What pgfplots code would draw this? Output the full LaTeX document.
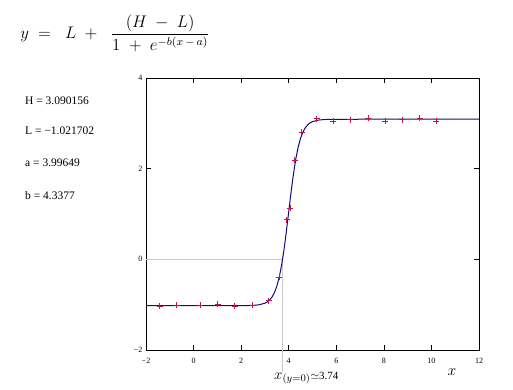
\documentclass[border=0pt]{standalone}
\usepackage{pgfplots}
\pgfplotsset{compat=1.18}
\usepackage{fontspec}
\setmainfont{Liberation Serif}
\definecolor{curve}{RGB}{15,15,125}
\definecolor{pts}{RGB}{200,15,70}
\definecolor{guide}{RGB}{200,200,200}
\begin{document}
\begin{tikzpicture}[x=1pt,y=1pt]
\path[use as bounding box] (0,0) rectangle (513,390);
\begin{axis}[
  at={(146pt,40pt)}, anchor=south west,
  scale only axis, width=333pt, height=272pt,
  xmin=-2, xmax=12, ymin=-2, ymax=4,
  xtick={-2,0,2,4,6,8,10,12},
  xticklabels={−2,0,2,4,6,8,10,12},
  ytick={-2,0,2,4},
  yticklabels={−2,0,2,4},
  tick align=inside, major tick length=5pt,
  tick style={black, line width=0.6pt},
  axis line style={line width=0.7pt},
  ticklabel style={font=\fontsize{8}{9}\selectfont},
  xticklabel style={yshift=-5pt},
  clip mode=individual,
]
\addplot[guide, line width=0.6pt, clip=false] coordinates {(-2,0) (3.74,0) (3.74,-2.48)};
\addplot[curve, line width=1pt] coordinates {
(-2,-1.0217) (1,-1.0217) (2,-1.0210) (2.25,-1.0196) (2.5,-1.0155) (2.75,-1.0033)
(3.0,-0.9679) (3.1,-0.9392) (3.2,-0.8958) (3.3,-0.8306) (3.4,-0.7341) (3.5,-0.5941)
(3.6,-0.3971) (3.7,-0.1314) (3.8,0.2075) (3.9,0.6102) (4.0,1.0499) (4.1,1.4882)
(4.2,1.8871) (4.3,2.2210) (4.4,2.4816) (4.5,2.6741) (4.6,2.8105) (4.7,2.9045)
(4.8,2.9679) (4.9,3.0101) (5.0,3.0379) (5.25,3.0723) (5.5,3.0841) (6.0,3.0895)
(7.0,3.0901) (12,3.0902)};
\addplot[only marks, mark=+, mark size=3pt, draw=pts, line width=0.9pt] coordinates {
(-1.43,-1.04) (-0.70,-1.01) (0.29,-1.01) (1.01,-0.99) (1.73,-1.04) (2.49,-1.01)
(3.16,-0.91) (3.61,-0.40) (3.92,0.87) (4.07,1.13) (4.25,2.19) (4.55,2.80)
(5.17,3.10) (5.87,3.05) (6.59,3.08) (7.34,3.11) (8.06,3.05) (8.78,3.08)
(9.50,3.11) (10.21,3.05)};
\end{axis}
\node[anchor=west, inner sep=0pt, scale=1.4] at (20,357) {\fontsize{12}{14}\selectfont $\displaystyle y \;=\;\; L \;+\;\; \frac{(H\;-\;L)}{1\;+\;e^{-b(x\,-\,a)}}$};
\node[anchor=west, inner sep=0pt, font=\fontsize{11.5}{13}\selectfont] at (25,289) {H = 3.090156};
\node[anchor=west, inner sep=0pt, font=\fontsize{11.5}{13}\selectfont] at (25,259) {L = −1.021702};
\node[anchor=west, inner sep=0pt, font=\fontsize{11.5}{13}\selectfont] at (25,227) {a = 3.99649};
\node[anchor=west, inner sep=0pt, font=\fontsize{11.5}{13}\selectfont] at (25,194) {b = 4.3377};
\node[inner sep=0pt, scale=1.3] at (452,18) {\fontsize{12}{14}\selectfont $x$};
\node[anchor=west, inner sep=0pt] at (274,12) {\scalebox{1.25}{\fontsize{12}{14}\selectfont $x_{(y=0)}$}\fontsize{11}{12}\selectfont$\simeq$3.74};
\end{tikzpicture}
\end{document}
